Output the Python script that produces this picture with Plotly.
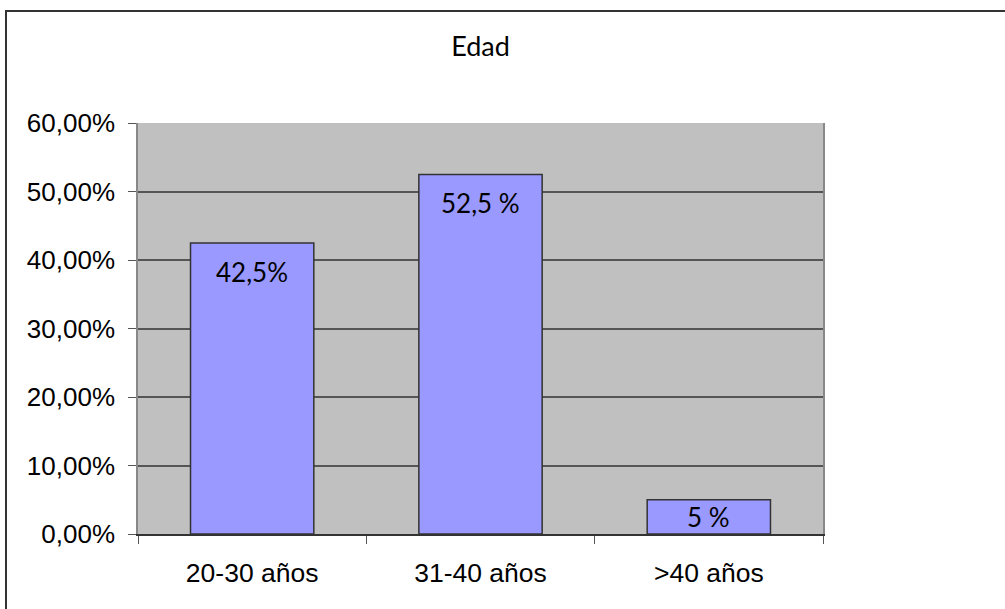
import plotly.graph_objects as go

# Age distribution of respondents
categories = ["20-30 años", "31-40 años", ">40 años"]
values = [42.5, 52.5, 5]
value_labels = ["42,5%", "52,5 %", "5 %"]
y_ticks = [0, 10, 20, 30, 40, 50, 60]
y_tick_text = [f"{v:.2f}".replace(".", ",") + "%" for v in y_ticks]

W, H = 1005, 609
M_L, M_R, M_T, M_B = 138, 182, 123, 75
Y_MAX = 60
px_per_unit = (H - M_T - M_B) / Y_MAX

fig = go.Figure()
fig.add_trace(go.Bar(
    x=categories,
    y=values,
    width=0.54,
    marker=dict(color="#9999FF", line=dict(color="#333333", width=1.5)),
    hoverinfo="skip",
))

# value labels sit inside the top of each bar (centred if the bar is short)
for cat, val, lab in zip(categories, values, value_labels):
    bar_px = val * px_per_unit
    offset = min(29, bar_px / 2)
    fig.add_annotation(
        x=cat, y=val, yshift=-offset, text=lab, showarrow=False,
        yanchor="middle", xanchor="center",
        font=dict(family="Lato", size=26, color="#000000"),
    )

# chart frame
fig.add_shape(
    type="rect", xref="paper", yref="paper",
    x0=(6 - M_L) / (W - M_L - M_R), x1=1.6,
    y0=-0.5, y1=(H - M_B - 11) / (H - M_T - M_B),
    line=dict(color="#333333", width=2), fillcolor="rgba(0,0,0,0)",
    layer="below",
)

fig.update_layout(
    width=W, height=H,
    margin=dict(l=M_L, r=M_R, t=M_T, b=M_B),
    paper_bgcolor="#FFFFFF",
    plot_bgcolor="#C0C0C0",
    showlegend=False,
    title=dict(
        text="Edad", x=0.5, xref="paper", xanchor="center",
        y=1 - 47 / H, yref="container", yanchor="middle",
        font=dict(family="Lato", size=27, color="#000000"),
    ),
)

fig.update_xaxes(
    type="category",
    showgrid=False,
    showline=True, linecolor="#333333", linewidth=2,
    ticks="outside", tickson="boundaries", ticklen=8, tickcolor="#555555", tickwidth=1,
    tickfont=dict(family="Liberation Sans, Arial", size=26.5, color="#000000"),
    ticklabelstandoff=14,
)
fig.update_yaxes(
    range=[0, Y_MAX],
    tickvals=y_ticks,
    ticktext=y_tick_text,
    showgrid=True, gridcolor="#555555", gridwidth=1.5,
    showline=True, linecolor="#888888", linewidth=1.5, mirror=True,
    ticks="outside", ticklen=8, tickcolor="#555555", tickwidth=1,
    tickfont=dict(family="Liberation Sans, Arial", size=26, color="#000000"),
    ticklabelstandoff=8,
    zeroline=False,
)

fig.write_html("out.html")
